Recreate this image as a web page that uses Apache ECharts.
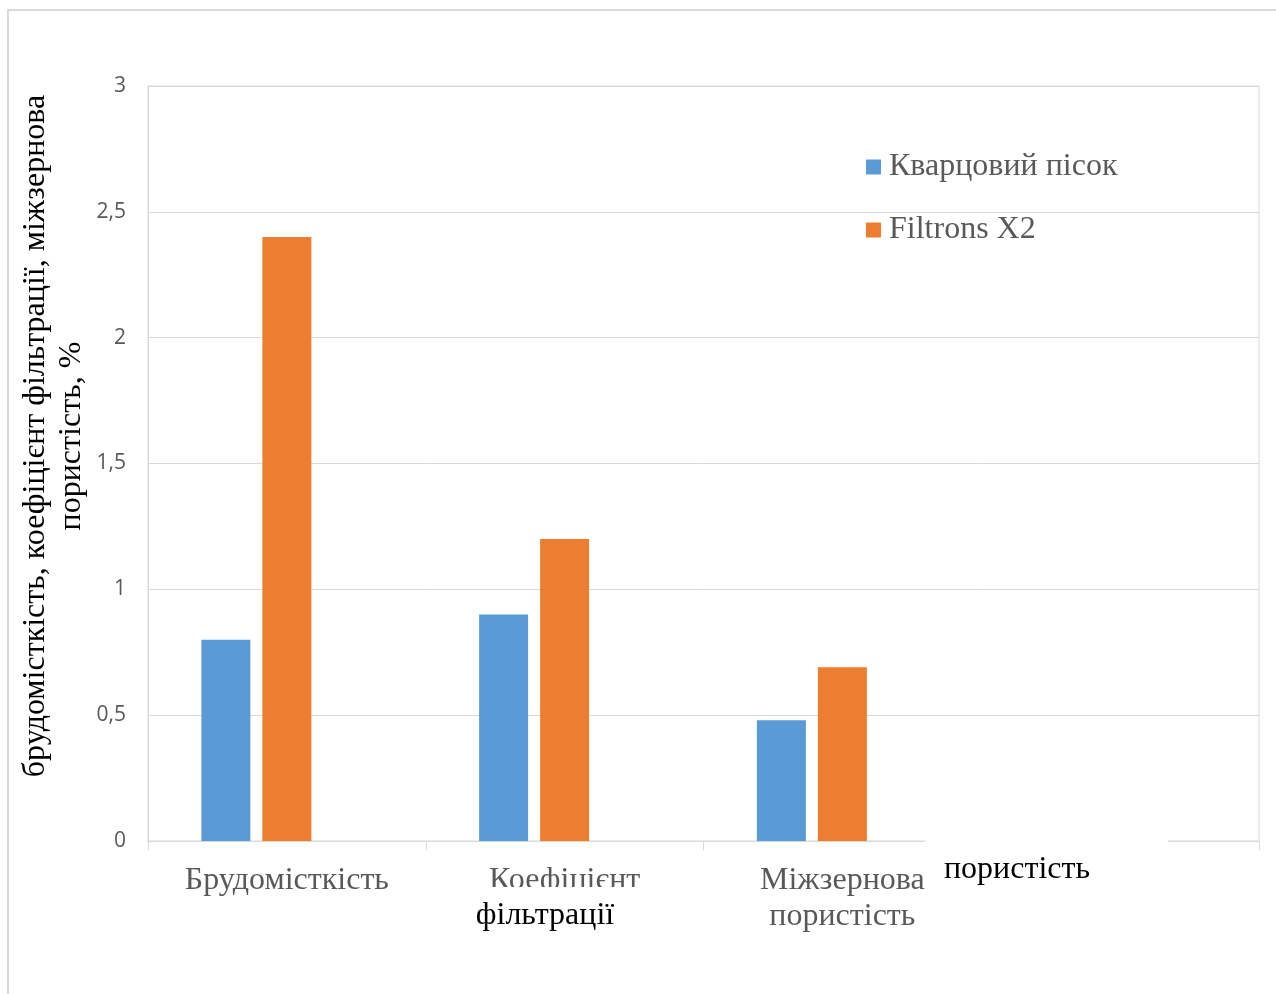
<!DOCTYPE html>
<html>
<head>
<meta charset="utf-8">
<script src="https://cdn.jsdelivr.net/npm/echarts@6/dist/echarts.min.js"></script>
<style>
html,body{margin:0;padding:0;background:#fff;}
#main{width:1276px;height:994px;}
</style>
</head>
<body>
<div id="main"></div>
<script>
const categories = ['Брудомісткість', 'Коефіцієнт\nфільтрації', 'Міжзернова\nпористість', ''];
const seriesNames = ['Кварцовий пісок', 'Filtrons X2'];
const quartzSand = [0.8, 0.9, 0.48, null];
const filtronsX2 = [2.4, 1.2, 0.69, null];
const emptySeries = [null, null, null, null];
const yTicks = [0, 0.5, 1, 1.5, 2, 2.5, 3];
const yTitle = 'брудомісткість, коефіцієнт фільтрації, міжзернова\nпористість, %';

const chart = echarts.init(document.getElementById('main'));
const serif = 'Liberation Serif';
const gray = '#595959';
const lineGray = '#d9d9d9';

chart.setOption({
  animation: false,
  backgroundColor: '#fff',
  grid: { left: 148, right: 17, top: 86, bottom: 153, show: true, borderColor: lineGray, borderWidth: 1 },
  legend: {
    data: seriesNames,
    orient: 'vertical',
    left: 861,
    top: 146,
    itemGap: 31,
    itemWidth: 15,
    itemHeight: 15,
    icon: 'rect',
    textStyle: { fontFamily: serif, fontSize: 32, color: gray, padding: [0, 0, 0, 3] }
  },
  xAxis: {
    type: 'category',
    data: categories,
    axisLine: { lineStyle: { color: lineGray } },
    axisTick: { show: true, length: 9, lineStyle: { color: lineGray } },
    axisLabel: { interval: 0, margin: 22, fontFamily: serif, fontSize: 32, color: gray, lineHeight: 36 }
  },
  yAxis: {
    type: 'value',
    min: yTicks[0],
    max: yTicks[yTicks.length - 1],
    interval: 0.5,
    axisLine: { show: true, lineStyle: { color: lineGray } },
    axisTick: { show: false },
    splitLine: { lineStyle: { color: lineGray } },
    axisLabel: {
      margin: 22,
      fontFamily: 'Open Sans',
      fontSize: 21,
      color: gray,
      formatter: v => String(v).replace('.', ',')
    }
  },
  series: [
    { name: seriesNames[0], type: 'bar', data: quartzSand, barWidth: 49, barGap: '24.5%', itemStyle: { color: '#5b9bd5' } },
    { name: seriesNames[1], type: 'bar', data: filtronsX2, barWidth: 49, barGap: '24.5%', itemStyle: { color: '#ed7d31' } },
    { name: '', type: 'bar', data: emptySeries, barWidth: 49, barGap: '24.5%', itemStyle: { color: '#a5a5a5' } }
  ],
  graphic: [
    { type: 'rect', shape: { x: 8, y: 10, width: 1300, height: 1000 }, style: { fill: 'none', stroke: lineGray, lineWidth: 2 }, z: 100, silent: true },
    { type: 'rect', shape: { x: 460, y: 887, width: 200, height: 60 }, style: { fill: '#fff' }, z: 100, silent: true },
    { type: 'text', x: 545, y: 916, style: { text: 'фільтрації', font: '32px "Liberation Serif"', fill: '#000', align: 'center', verticalAlign: 'middle' }, z: 101, silent: true },
    { type: 'rect', shape: { x: 925, y: 836, width: 243, height: 60 }, style: { fill: '#fff' }, z: 100, silent: true },
    { type: 'text', x: 1017, y: 870, style: { text: 'пористість', font: '32px "Liberation Serif"', fill: '#000', align: 'center', verticalAlign: 'middle' }, z: 101, silent: true },
    { type: 'text', x: 54, y: 436, rotation: Math.PI / 2, style: { text: yTitle, font: '32px "Liberation Serif"', fill: '#000', align: 'center', verticalAlign: 'middle', lineHeight: 36 }, z: 101, silent: true }
  ]
});
</script>
</body>
</html>
